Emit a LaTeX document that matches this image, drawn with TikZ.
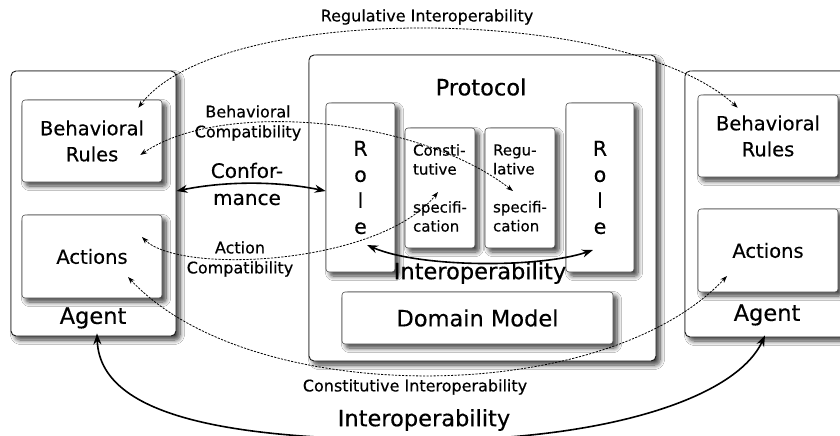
\documentclass[tikz,border=0pt]{standalone}
\usepackage{fontspec}
\setmainfont{DejaVu Sans}[FakeBold=0.35]
\usetikzlibrary{shadows.blur,arrows.meta,calc}
\begin{document}
\begin{tikzpicture}[x=1pt,y=-1pt,
  shad/.style={blur shadow={shadow xshift=4pt,shadow yshift=-4pt,shadow blur steps=8,shadow blur radius=4.5pt,shadow opacity=75}},
  outerbox/.style={draw=black!90,line width=0.9pt,rounded corners=5pt,fill=white,shad,inner sep=0pt},
  innerbox/.style={draw=black!70,line width=0.6pt,rounded corners=3pt,fill=white,shad,inner sep=0pt},
  bigtxt/.style={font=\fontsize{22.5}{27}\selectfont,inner sep=0pt},
  midtxt/.style={font=\fontsize{19.5}{26}\selectfont,align=center},
  smalltxt/.style={font=\fontsize{16}{20}\selectfont,align=center,inner sep=0pt},
  spectxt/.style={font=\fontsize{15}{19}\selectfont,align=left},
  roletxt/.style={font=\fontsize{20.5}{26}\selectfont,align=center},
  dasharr/.style={dash pattern=on 2.2pt off 1.3pt,line width=0.8pt,{Stealth[length=7pt,width=5pt]}-{Stealth[length=7pt,width=5pt]}},
  solidarr/.style={line width=1.6pt,{Stealth[length=11pt,width=8pt]}-{Stealth[length=11pt,width=8pt]}}
]
\fill[white] (0,0) rectangle (840,436);
\useasboundingbox (0,0) rectangle (840,436);

% outer boxes
\node[outerbox,minimum width=165pt,minimum height=265pt] (lagent) at (93.5,203.5) {};
\node[outerbox,minimum width=347pt,minimum height=306pt] (proto) at (482.5,208) {};
\node[outerbox,minimum width=165pt,minimum height=266pt] (ragent) at (767.5,204) {};

% inner boxes
\node[innerbox,minimum width=140pt,minimum height=82pt,midtxt] (lbr) at (92,141) {Behavioral\\Rules};
\node[innerbox,minimum width=140pt,minimum height=83pt,midtxt] (la) at (92,256.5) {Actions};
\node[innerbox,minimum width=140pt,minimum height=82pt,midtxt] (rbr) at (768,136) {Behavioral\\Rules};
\node[innerbox,minimum width=140pt,minimum height=83pt,midtxt] (ra) at (768,250.5) {Actions};

\node[innerbox,minimum width=69pt,minimum height=169pt,roletxt] (lrole) at (360.5,187.5) {R\\o\\l\\e};
\node[innerbox,minimum width=68pt,minimum height=169pt,roletxt] (rrole) at (600,187.5) {R\\o\\l\\e};
\node[innerbox,minimum width=70pt,minimum height=120pt,spectxt] (con) at (440,188) {Consti-\\tutive\\[19pt]specifi-\\cation};
\node[innerbox,minimum width=70pt,minimum height=120pt,spectxt] (reg) at (520,188) {Regu-\\lative\\[19pt]specifi-\\cation};
\node[innerbox,minimum width=271pt,minimum height=52pt,bigtxt] (dom) at (477.5,318) {Domain Model};

% labels inside outer boxes
\node[bigtxt] (lagentlbl) at (93,318) {Agent};
\node[bigtxt] (ragentlbl) at (767,315) {Agent};
\node[bigtxt] (protolbl) at (481,87) {Protocol};

% connector end points
\coordinate (lbrR) at ($(lbr.north east)+(-24,8)$);
\coordinate (rbrR) at ($(rbr.north west)+(40,13)$);
\coordinate (lbrB) at ($(lbr.east)+(-22,14)$);
\coordinate (regC) at ($(reg.center)+(-7,3)$);
\coordinate (laA) at ($(la.center)+(50,-19.5)$);
\coordinate (conC) at ($(con.center)+(-2,4)$);
\coordinate (laC) at ($(la.center)+(36,20.5)$);
\coordinate (raC) at ($(ra.center)+(-41,25.5)$);
\coordinate (confL) at ($(lagent.east)+(0,-12.5)$);
\coordinate (confR) at ($(lrole.west)+(0,3.5)$);
\coordinate (lroleI) at ($(lrole.center)+(6.5,57.5)$);
\coordinate (rroleI) at ($(rrole.center)+(-7,62.5)$);
\coordinate (lagA) at ($(lagent.south)+(3.5,-3)$);
\coordinate (ragA) at ($(ragent.south)+(-2.5,-2)$);

% dashed connectors
\draw[dasharr] (lbrR) .. controls (220,0) and (627,5) .. (rbrR);
\draw[dasharr] (lbrB) .. controls (220,100) and (416,116) .. (regC);
\draw[dasharr] (laA) .. controls (180,275) and (380,265) .. (conC);
\draw[dasharr] (laC) .. controls (250,408) and (603,408) .. (raC);

% solid connectors
\draw[solidarr] (confL) .. controls (226,181) and (277,181) .. (confR);
\draw[solidarr] (lroleI) .. controls (420,268) and (540,268) .. (rroleI);
\draw[solidarr] (lagA) .. controls (100,425) and (260,440) .. (430,440) .. controls (600,440) and (735,400) .. (ragA);

% free labels
\node[smalltxt] (reglbl) at (427,17) {Regulative Interoperability};
\node[smalltxt] (bclbl) at (248,123) {Behavioral\\Compatibility};
\node[midtxt,inner sep=0pt,font=\fontsize{20}{27}\selectfont] (conflbl) at (247,184) {Confor-\\mance};
\node[smalltxt] (aclbl) at (240,259) {Action\\Compatibility};
\node[smalltxt] (cilbl) at (415,387) {Constitutive Interoperability};
\node[bigtxt] (midint) at (480,273) {Interoperability};
\node[bigtxt] (botint) at (424,420) {Interoperability};
\end{tikzpicture}
\end{document}
